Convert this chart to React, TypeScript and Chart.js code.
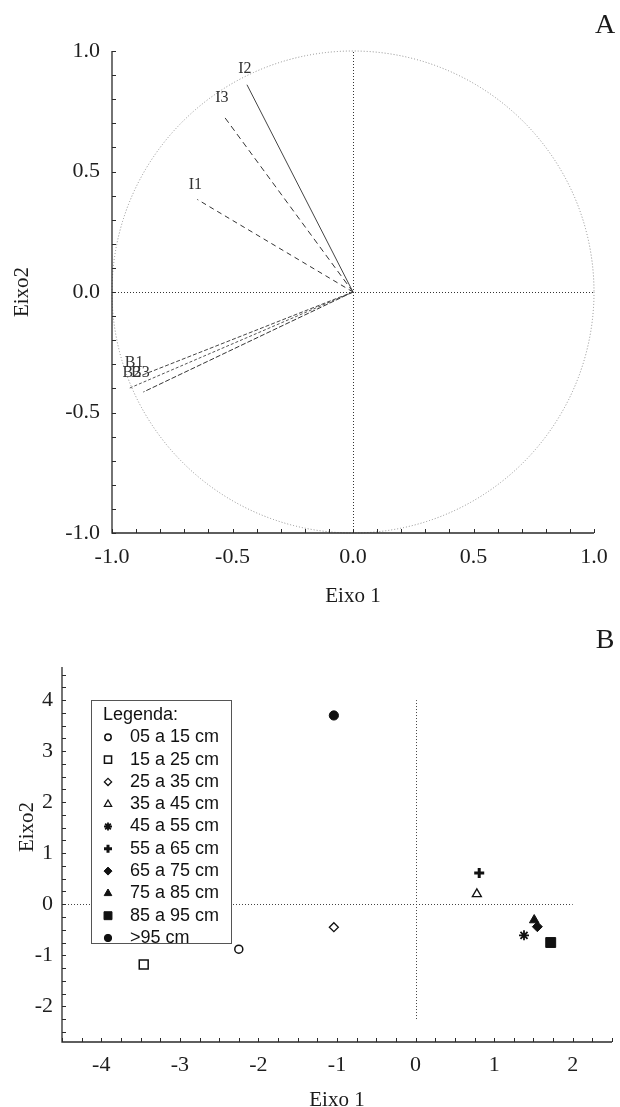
import React, { useEffect, useRef } from "react";
import { Chart, registerables } from "chart.js";
import { drawPoint } from "chart.js/helpers";

Chart.register(...registerables);

const SERIF = '"Liberation Serif", "Times New Roman", serif';
const SANS = '"Liberation Sans", Arial, sans-serif';

// ---------- Panel A : correlation circle ----------
const VARIABLES = ["I1", "I2", "I3", "B1", "B2", "B3"];
const AXIS1_LOADINGS = [-0.646, -0.44, -0.54, -0.875, -0.93, -0.87];
const AXIS2_LOADINGS = [0.384, 0.86, 0.735, -0.345, -0.4, -0.415];
const A_TICK_VALUES = [-1, -0.5, 0, 0.5, 1];

// ---------- Panel B : scores ----------
const DEPTH_CLASSES = [
  "05 a 15 cm",
  "15 a 25 cm",
  "25 a 35 cm",
  "35 a 45 cm",
  "45 a 55 cm",
  "55 a 65 cm",
  "65 a 75 cm",
  "75 a 85 cm",
  "85 a 95 cm",
  ">95 cm",
];
const EIXO1_SCORES = [-2.25, -3.46, -1.04, 0.78, 1.38, 0.81, 1.55, 1.51, 1.72, -1.04];
const EIXO2_SCORES = [-0.88, -1.18, -0.45, 0.2, -0.61, 0.61, -0.44, -0.31, -0.75, 3.7];
const B_X_TICK_VALUES = [-4, -3, -2, -1, 0, 1, 2];
const B_Y_TICK_VALUES = [-2, -1, 0, 1, 2, 3, 4];

// ---------- styles (kept apart from the data) ----------
const VECTOR_DASH = [[5, 4], [], [6, 4], [4, 2], [3, 2], [5, 2]];
const VECTOR_COLOR = ["#333", "#444", "#333", "#444", "#555", "#333"];
const LABEL_OFFSET = [
  [-2, -15],
  [-2, -16],
  [-1, -17],
  [-8, -12],
  [3, -16],
  [-3, -19],
];
const MARKER_STYLE = ["circle", "rect", "rectRot", "triangle", "star", "cross", "rectRot", "triangle", "rect", "circle"];
const MARKER_FILLED = [false, false, false, false, false, false, true, true, true, true];
const MARKER_BORDER = [1.5, 1.5, 1.3, 1.3, 1.8, 3, 1, 1, 1, 1];
const MARKER_RADIUS = [4, 6.3, 4.5, 5.2, 5, 5, 5, 5.5, 7, 4.6];

const framePlugin = {
  id: "frame",
  afterDraw(chart: any, _args: any, o: any) {
    const { ctx, chartArea: ca, scales } = chart;
    const x = scales.x;
    const y = scales.y;
    ctx.save();
    ctx.setLineDash([]);
    ctx.strokeStyle = "#2a2a2a";
    ctx.lineWidth = 1.3;
    ctx.beginPath();
    ctx.moveTo(ca.left, ca.top);
    ctx.lineTo(ca.left, ca.bottom);
    ctx.lineTo(ca.right, ca.bottom);
    ctx.stroke();
    ctx.lineWidth = 1;
    ctx.beginPath();
    for (let i = 0; ; i++) {
      const v = o.startX + i * o.minorX;
      if (v > x.max + 1e-9) break;
      const px = Math.round(x.getPixelForValue(v)) + 0.5;
      ctx.moveTo(px, ca.bottom);
      ctx.lineTo(px, ca.bottom - o.tickLen);
    }
    for (let i = 0; ; i++) {
      const v = o.startY + i * o.minorY;
      if (v > y.max + 1e-9) break;
      if (v < y.min - 1e-9) continue;
      const py = Math.round(y.getPixelForValue(v)) + 0.5;
      ctx.moveTo(ca.left, py);
      ctx.lineTo(ca.left + o.tickLen, py);
    }
    ctx.stroke();

    ctx.fillStyle = "#1a1a1a";
    ctx.textAlign = "center";
    ctx.textBaseline = "middle";
    ctx.font = `${o.titleSize}px ${SERIF}`;
    ctx.fillText(o.xTitle, (ca.left + ca.right) / 2, o.xTitleY);
    ctx.save();
    ctx.translate(o.yTitleX, o.yTitleY);
    ctx.rotate(-Math.PI / 2);
    ctx.fillText(o.yTitle, 0, 0);
    ctx.restore();
    ctx.font = `${o.panelSize}px ${SERIF}`;
    ctx.fillText(o.panel, o.panelX, o.panelY);
    ctx.restore();
  },
};

const circlePlugin = {
  id: "circleDecor",
  beforeDatasetsDraw(chart: any) {
    const { ctx, scales } = chart;
    const x = scales.x;
    const y = scales.y;
    const cx = x.getPixelForValue(0);
    const cy = y.getPixelForValue(0);
    const r = x.getPixelForValue(1) - cx;
    ctx.save();
    ctx.lineWidth = 1;
    ctx.setLineDash([1, 2]);
    ctx.strokeStyle = "#8c8c8c";
    ctx.beginPath();
    ctx.arc(cx, cy, r, 0, Math.PI * 2);
    ctx.stroke();
    ctx.strokeStyle = "#333";
    ctx.beginPath();
    ctx.moveTo(x.getPixelForValue(-1), Math.round(cy) + 0.5);
    ctx.lineTo(x.getPixelForValue(1), Math.round(cy) + 0.5);
    ctx.moveTo(Math.round(cx) + 0.5, y.getPixelForValue(-1));
    ctx.lineTo(Math.round(cx) + 0.5, y.getPixelForValue(1));
    ctx.stroke();
    ctx.restore();
  },
  afterDatasetsDraw(chart: any) {
    const { ctx, scales } = chart;
    ctx.save();
    ctx.fillStyle = "#333";
    ctx.font = `16px ${SERIF}`;
    ctx.textAlign = "center";
    ctx.textBaseline = "middle";
    VARIABLES.forEach((name, i) => {
      const px = scales.x.getPixelForValue(AXIS1_LOADINGS[i]);
      const py = scales.y.getPixelForValue(AXIS2_LOADINGS[i]);
      ctx.fillText(name, px + LABEL_OFFSET[i][0], py + LABEL_OFFSET[i][1]);
    });
    ctx.restore();
  },
};

const crossLinesPlugin = {
  id: "crossLines",
  beforeDatasetsDraw(chart: any, _a: any, o: any) {
    const { ctx, scales } = chart;
    const x = scales.x;
    const y = scales.y;
    ctx.save();
    ctx.lineWidth = 1;
    ctx.setLineDash([1, 2]);
    ctx.strokeStyle = "#444";
    const cy = Math.round(y.getPixelForValue(0)) + 0.5;
    const cx = Math.round(x.getPixelForValue(0)) + 0.5;
    ctx.beginPath();
    ctx.moveTo(x.getPixelForValue(o.hFrom), cy);
    ctx.lineTo(x.getPixelForValue(o.hTo), cy);
    ctx.moveTo(cx, y.getPixelForValue(o.vFrom));
    ctx.lineTo(cx, y.getPixelForValue(o.vTo));
    ctx.stroke();
    ctx.restore();
  },
};

const boxLegendPlugin = {
  id: "boxLegend",
  afterDatasetsDraw(chart: any, _a: any, o: any) {
    const { ctx } = chart;
    ctx.save();
    ctx.setLineDash([]);
    ctx.fillStyle = "#fff";
    ctx.fillRect(o.left, o.top, o.width, o.height);
    ctx.strokeStyle = "#555";
    ctx.lineWidth = 1;
    ctx.strokeRect(o.left + 0.5, o.top + 0.5, o.width, o.height);
    ctx.fillStyle = "#111";
    ctx.font = `${o.fontSize}px ${SANS}`;
    ctx.textAlign = "left";
    ctx.textBaseline = "middle";
    ctx.fillText(o.title, o.left + o.titleX, o.top + o.firstY);
    chart.data.datasets.forEach((ds: any, i: number) => {
      const cy = o.top + o.firstY + (i + 1) * o.rowH;
      ctx.fillStyle = ds.backgroundColor;
      ctx.strokeStyle = ds.borderColor;
      ctx.lineWidth = ds.pointBorderWidth;
      drawPoint(
        ctx,
        { pointStyle: ds.pointStyle, radius: ds.pointRadius * 0.8, borderWidth: ds.pointBorderWidth, rotation: 0 } as any,
        o.left + o.markerX,
        cy
      );
      ctx.fillStyle = "#111";
      ctx.fillText(ds.label, o.left + o.textX, cy);
    });
    ctx.restore();
  },
};

function tickAxis(values: number[], min: number, max: number, fmt: (v: number) => string, pad: number, fit: (s: any) => void) {
  return {
    type: "linear",
    min,
    max,
    afterBuildTicks: (s: any) => {
      s.ticks = values.map((v) => ({ value: v }));
    },
    afterFit: fit,
    grid: { display: false, drawTicks: false },
    border: { display: false },
    ticks: {
      padding: pad,
      autoSkip: false,
      maxRotation: 0,
      color: "#1e1e1e",
      font: { family: SERIF, size: 22 },
      callback: (v: any) => fmt(Number(v)),
    },
  };
}

export default function App() {
  const aRef = useRef<HTMLCanvasElement>(null);
  const bRef = useRef<HTMLCanvasElement>(null);

  useEffect(() => {
    const vectorSets = VARIABLES.map((name, i) => ({
      label: name,
      data: [
        { x: 0, y: 0 },
        { x: AXIS1_LOADINGS[i], y: AXIS2_LOADINGS[i] },
      ],
      showLine: true,
      borderColor: VECTOR_COLOR[i],
      borderWidth: 1,
      borderDash: VECTOR_DASH[i],
      pointRadius: 0,
      fill: false,
      tension: 0,
    }));

    const chartA = new Chart(aRef.current as HTMLCanvasElement, {
      type: "scatter",
      data: { datasets: vectorSets as any },
      options: {
        animation: false,
        responsive: false,
        layout: { padding: { top: 51, right: 26, left: 0, bottom: 0 } },
        plugins: {
          legend: { display: false },
          tooltip: { enabled: false },
          frame: {
            startX: -1,
            startY: -1,
            minorX: 0.1,
            minorY: 0.1,
            tickLen: 4,
            xTitle: "Eixo 1",
            xTitleY: 596,
            yTitle: "Eixo2",
            yTitleX: 22,
            yTitleY: 292,
            titleSize: 21,
            panel: "A",
            panelX: 605,
            panelY: 26,
            panelSize: 28,
          },
        } as any,
        scales: {
          x: tickAxis(A_TICK_VALUES, -1, 1, (v) => v.toFixed(1), 11, (s: any) => {
            s.height = 79;
          }),
          y: tickAxis(A_TICK_VALUES, -1, 1, (v) => v.toFixed(1), 12, (s: any) => {
            s.width = 112;
          }),
        } as any,
      },
      plugins: [circlePlugin, framePlugin],
    });

    const scoreSets = DEPTH_CLASSES.map((name, i) => ({
      label: name,
      data: [{ x: EIXO1_SCORES[i], y: EIXO2_SCORES[i] }],
      pointStyle: MARKER_STYLE[i],
      pointRadius: MARKER_RADIUS[i],
      pointBorderWidth: MARKER_BORDER[i],
      backgroundColor: MARKER_FILLED[i] ? "#111" : "#fff",
      borderColor: "#111",
    }));

    const chartB = new Chart(bRef.current as HTMLCanvasElement, {
      type: "scatter",
      data: { datasets: scoreSets as any },
      options: {
        animation: false,
        responsive: false,
        layout: { padding: { top: 55, right: 5, left: 0, bottom: 0 } },
        plugins: {
          legend: { display: false },
          tooltip: { enabled: false },
          crossLines: { hFrom: -4.5, hTo: 2, vFrom: -2.25, vTo: 4 },
          boxLegend: {
            left: 91,
            top: 88,
            width: 140,
            height: 243,
            title: "Legenda:",
            fontSize: 18,
            titleX: 12,
            firstY: 15,
            rowH: 22.3,
            markerX: 17,
            textX: 39,
          },
          frame: {
            startX: -4.5,
            startY: -2.5,
            minorX: 0.25,
            minorY: 0.25,
            tickLen: 4,
            xTitle: "Eixo 1",
            xTitleY: 488,
            yTitle: "Eixo2",
            yTitleX: 27,
            yTitleY: 215,
            titleSize: 21,
            panel: "B",
            panelX: 605,
            panelY: 29,
            panelSize: 28,
          },
        } as any,
        scales: {
          x: tickAxis(B_X_TICK_VALUES, -4.5, 2.5, (v) => String(v), 10, (s: any) => {
            s.height = 65;
          }),
          y: tickAxis(B_Y_TICK_VALUES, -2.7, 4.65, (v) => String(v), 9, (s: any) => {
            s.width = 62;
          }),
        } as any,
      },
      plugins: [crossLinesPlugin, boxLegendPlugin, framePlugin],
    });

    return () => {
      chartA.destroy();
      chartB.destroy();
    };
  }, []);

  return (
    <div style={{ position: "absolute", left: 0, top: 0, width: 620, height: 1107, background: "#fff" }}>
      <canvas ref={aRef} width={620} height={612} style={{ display: "block", width: 620, height: 612 }} />
      <canvas ref={bRef} width={620} height={495} style={{ display: "block", width: 620, height: 495 }} />
    </div>
  );
}
